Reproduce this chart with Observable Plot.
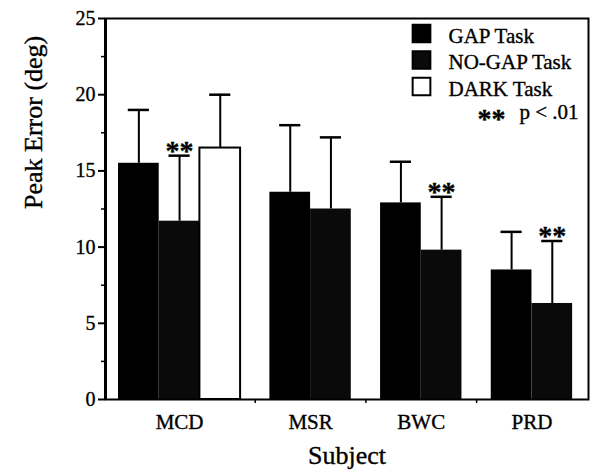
<!DOCTYPE html>
<html><head><meta charset="utf-8">
<script src="https://cdn.jsdelivr.net/npm/d3@7"></script>
<script src="https://cdn.jsdelivr.net/npm/@observablehq/plot@0.6"></script>
<style>body{margin:0;background:#fff} svg text{stroke:#000;stroke-width:0.35px}</style>
</head><body><div id="chart"></div>
<script>
const subjects = ["MCD", "MSR", "BWC", "PRD"];
const tasks = ["GAP Task", "NO-GAP Task", "DARK Task"];
const gapMean = [15.5, 13.6, 12.9, 8.5];
const gapUpper = [19.0, 18.0, 15.6, 11.0];
const noGapMean = [11.7, 12.5, 9.8, 6.3];
const noGapUpper = [16.0, 17.2, 13.3, 10.4];
const darkMean = [16.5, null, null, null];
const darkUpper = [20.0, null, null, null];
const noGapSignificant = [true, false, true, true];
const yTicks = [0, 5, 10, 15, 20, 25];
const yMinorTicks = [2.5, 7.5, 12.5, 17.5, 22.5];
const sigLabel = "**";
const sigNote = "p < .01";
const xTitle = "Subject";
const yTitle = "Peak Error (deg)";

// layout (bar slots in units of one bar width)
const GROUP_GAP = 0.72, CAP = 0.26;
const bars = [], groups = [];
let pos = 0;
subjects.forEach((s, i) => {
  const start = pos;
  const series = [
    [tasks[0], gapMean[i], gapUpper[i], false],
    [tasks[1], noGapMean[i], noGapUpper[i], noGapSignificant[i]],
    [tasks[2], darkMean[i], darkUpper[i], false]
  ];
  for (const [task, mean, upper, sig] of series) {
    if (mean == null) continue;
    bars.push({subject: s, task, mean, upper, sig, x1: pos, x2: pos + 1, xc: pos + 0.5});
    pos += 1;
  }
  groups.push({subject: s, start, end: pos, center: (start + pos) / 2});
  pos += GROUP_GAP;
});
const xEnd = pos - GROUP_GAP;
const boundaries = groups.slice(1).map((g, i) => (groups[i].end + g.start) / 2);
const xDomain = [-0.32, xEnd + 0.39];

const font = '"Liberation Serif", "Times New Roman", serif';
const colors = ["#000000", "#0a0a0a", "#ffffff"];

const legendMarks = [];
tasks.forEach((t, i) => {
  const base = 42 + i * 26.5 - 18;
  legendMarks.push(Plot.dot([t], {frameAnchor: "top-left", dx: 316, dy: base - 9, symbol: "square", r: 10, fill: colors[i], stroke: "#000", strokeWidth: 2}));
  legendMarks.push(Plot.text([t], {frameAnchor: "top-left", dx: 343, dy: base, textAnchor: "start", lineAnchor: "bottom", fontSize: 21}));
});
legendMarks.push(Plot.text([sigLabel], {frameAnchor: "top-left", dx: 372, dy: 127 - 18, lineAnchor: "bottom", fontSize: 28, fontWeight: "bold"}));
legendMarks.push(Plot.text([sigNote], {frameAnchor: "top-left", dx: 473, dy: 118 - 18, textAnchor: "end", lineAnchor: "bottom", fontSize: 21}));

const chart = Plot.plot({
  width: 590,
  height: 472,
  marginLeft: 105,
  marginRight: 2,
  marginTop: 18,
  marginBottom: 73,
  style: {fontFamily: font, fontSize: "20px", color: "#000", background: "#fff"},
  x: {domain: xDomain, axis: null},
  y: {domain: [0, 25], axis: null},
  color: {domain: tasks, range: colors},
  marks: [
    Plot.rectY(bars, {x1: "x1", x2: "x2", y1: 0, y2: "mean", fill: "task"}),
    Plot.rectY(bars.filter(d => d.task === tasks[2]), {x1: "x1", x2: "x2", y1: 0, y2: "mean", fill: "none", stroke: "#000", strokeWidth: 2}),
    Plot.ruleX(bars, {x: "xc", y1: "mean", y2: "upper", stroke: "#000", strokeWidth: 2}),
    Plot.ruleY(bars, {y: "upper", x1: d => d.xc - CAP, x2: d => d.xc + CAP, stroke: "#000", strokeWidth: 2.5}),
    Plot.text(bars.filter(d => d.sig), {x: "xc", y: "upper", text: () => sigLabel, fontSize: 28, fontWeight: "bold", lineAnchor: "bottom", dy: 4}),
    Plot.axisY(yTicks, {tickSize: 7, tickPadding: 3, fontSize: 20, label: null, strokeWidth: 2}),
    Plot.axisY(yMinorTicks, {tickSize: 4, tickFormat: () => "", label: null, strokeWidth: 1.5}),
    Plot.axisX(boundaries, {tickSize: 4, tickFormat: () => "", label: null, strokeWidth: 1.5}),
    Plot.text(groups, {x: "center", text: "subject", frameAnchor: "bottom", dy: 29, lineAnchor: "bottom", fontSize: 21}),
    Plot.text([xTitle], {frameAnchor: "bottom", dy: 64, lineAnchor: "bottom", fontSize: 26}),
    Plot.text([yTitle], {frameAnchor: "left", dx: -64, rotate: -90, lineAnchor: "bottom", fontSize: 26}),
    Plot.frame({stroke: "#000", strokeWidth: 2}),
    Plot.ruleX([xDomain[0]], {stroke: "#000", strokeWidth: 3}),
    ...legendMarks
  ]
});
document.getElementById("chart").appendChild(chart);
</script>
</body></html>
